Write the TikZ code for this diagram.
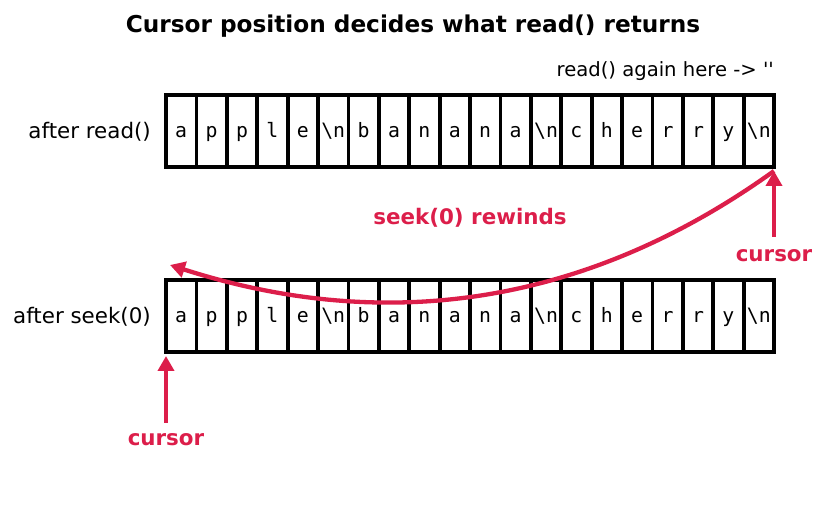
\documentclass[tikz,border=0pt]{standalone}
\usepackage{fontspec}
\setmainfont{DejaVu Sans}
\setmonofont{DejaVu Sans Mono}
\usetikzlibrary{arrows.meta}
\definecolor{accent}{RGB}{220,30,74}
\newcommand\straightq{\XeTeXglyph\XeTeXglyphindex "quotesingle"\relax}
\tikzset{
  cell/.style={draw=black, line width=3.8pt, minimum width=30.4pt, minimum height=72pt, inner sep=0pt},
  ch/.style={inner sep=0pt, anchor=base, font=\ttfamily\fontsize{19.8}{23}\selectfont},
  rowlabel/.style={inner sep=0pt, anchor=base east, font=\fontsize{21.4}{25}\selectfont},
  curlabel/.style={inner sep=0pt, anchor=base, text=accent, font=\bfseries\fontsize{21.4}{25}\selectfont},
  arr/.style={draw=accent, line width=4.3pt, -{Triangle[length=15pt,width=16pt]}},
}
\begin{document}
\begin{tikzpicture}[x=1pt,y=-1pt]
\useasboundingbox (0,0) rectangle (825,510);
\node[inner sep=0pt, anchor=base, font=\bfseries\fontsize{23.2}{27}\selectfont] (title) at (413,33) {Cursor position decides what read() returns};
\node[inner sep=0pt, anchor=base east, font=\fontsize{19.6}{23}\selectfont] (note) at (774,77) {read() again here -> \straightq\straightq};
\foreach \c [count=\i from 0] in {a,p,p,l,e,\textbackslash n,b,a,n,a,n,a,\textbackslash n,c,h,e,r,r,y,\textbackslash n}{
  \pgfmathsetmacro{\cx}{166+30.4*(\i+0.5)}
  \node[cell] (ra\i) at (\cx,131) {};
  \node[ch] (ta\i) at (\cx,138) {\c};
  \node[cell] (rb\i) at (\cx,316) {};
  \node[ch] (tb\i) at (\cx,323) {\c};
}
\node[rowlabel] (lab1) at (151,138.5) {after read()};
\node[rowlabel] (lab2) at (151,323.5) {after seek(0)};
\node[curlabel] (cur1) at (774,261.5) {cursor};
\node[curlabel] (cur2) at (166,446) {cursor};
\node[curlabel] (rew) at (470,225) {seek(0) rewinds};
\coordinate (tip1) at (774,171);
\coordinate (base1) at (774,237);
\coordinate (tip2) at (166,356);
\coordinate (base2) at (166,423);
\coordinate (rwend) at (170,265);
\draw[arr] (base1) -- (tip1);
\draw[arr] (base2) -- (tip2);
\draw[arr] (tip1) .. controls (588.9,304) and (388.3,335) .. (rwend);
\end{tikzpicture}
\end{document}
